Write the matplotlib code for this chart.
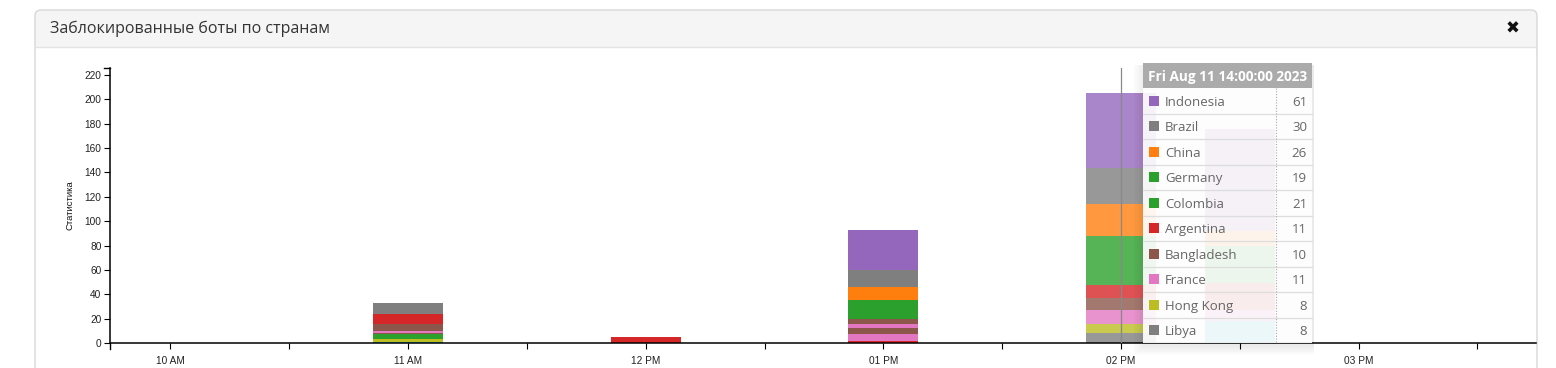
import matplotlib.pyplot as plt
from matplotlib.patches import FancyBboxPatch, Rectangle

W, H = 1556, 368

cat10 = {'blue': '#1f77b4', 'orange': '#ff7f0e', 'green': '#2ca02c', 'red': '#d62728',
         'purple': '#9467bd', 'brown': '#8c564b', 'pink': '#e377c2', 'gray': '#7f7f7f',
         'olive': '#bcbd22', 'cyan': '#17becf'}

# bar centres (hour of day)
bar_hours = [11, 12, 13, 14, 14.5]

# stacked segments, bottom -> top
vals_11 = [1, 2, 4, 1, 2, 6, 8, 9]
cols_11 = ['cyan', 'olive', 'green', 'brown', 'pink', 'brown', 'red', 'gray']
vals_12 = [5]
cols_12 = ['red']
vals_13 = [2, 5, 5, 4, 4, 15, 11, 14, 33]
cols_13 = ['red', 'pink', 'brown', 'pink', 'brown', 'green', 'orange', 'gray', 'purple']
vals_1430 = [18, 9, 22, 31, 12, 84]
cols_1430 = ['cyan', 'pink', 'red', 'green', 'orange', 'purple']

# hovered bar (14:00), as listed in the tooltip, top -> bottom
countries_14 = ['Indonesia', 'Brazil', 'China', 'Germany', 'Colombia',
                'Argentina', 'Bangladesh', 'France', 'Hong Kong', 'Libya']
vals_14 = [61, 30, 26, 19, 21, 11, 10, 11, 8, 8]
cols_14 = ['purple', 'gray', 'orange', 'green', 'green',
           'red', 'brown', 'pink', 'olive', 'gray']

hour_ticks = [10, 11, 12, 13, 14, 15]
hour_labels = ['10 AM', '11 AM', '12 PM', '01 PM', '02 PM', '03 PM']
half_ticks = [10.5, 11.5, 12.5, 13.5, 14.5, 15.5]
y_ticks = list(range(0, 221, 20))

title = 'Заблокированные боты по странам'
y_title = 'Статистика'
tip_title = 'Fri Aug 11 14:00:00 2023'

fig = plt.figure(figsize=(W / 100, H / 100), dpi=100)

# panel background, pixel coordinates
bg = fig.add_axes([0, 0, 1, 1], zorder=0)
bg.set_xlim(0, W)
bg.set_ylim(H, 0)
bg.axis('off')
bg.add_patch(FancyBboxPatch((35, 10), 1502, 50, boxstyle='round,pad=0,rounding_size=6',
                            fc='#f5f5f5', ec='none'))
bg.add_patch(Rectangle((35.5, 47), 1501, 20, fc='white', ec='none'))
bg.plot([35.5, 1536.5], [47, 47], color='#e3e3e3', lw=1)
bg.add_patch(FancyBboxPatch((35, 10), 1502, 380, boxstyle='round,pad=0,rounding_size=6',
                            fc='none', ec='#d8d8d8', lw=1))
bg.text(50, 29, title, fontsize=11.5, family='Open Sans', color='#333333', va='center')
bg.text(1513, 28.5, '\u2716', fontsize=12, family='DejaVu Sans', color='#111111',
        ha='center', va='center')
# d3 style outer ticks at the ends of the axes
bg.plot([104, 110.5], [68, 68], color='black', lw=1)
bg.plot([110.5, 110.5], [343, 349], color='black', lw=1)
bg.text(70, 205, y_title, rotation=90, fontsize=6.8, family='Liberation Sans',
        ha='center', va='center', color='#111111')

# chart
ax = fig.add_axes([110.5 / W, (H - 343) / H, 1425.5 / W, 275 / H], zorder=1)
ax.patch.set_alpha(0)
ax.set_xlim(9.7475, 15.747)
ax.set_ylim(0, 225.7)

stacks = [(vals_11, cols_11), (vals_12, cols_12), (vals_13, cols_13),
          (vals_14[::-1], cols_14[::-1]), (vals_1430, cols_1430)]
for h, (vals, cols) in zip(bar_hours, stacks):
    bottom = 0
    alpha = 0.8 if h == 14 else 1.0
    for v, c in zip(vals, cols):
        ax.bar(h, v, width=0.295, bottom=bottom, color=cat10[c], alpha=alpha, lw=0)
        bottom += v

ax.axvline(14, color='#888888', lw=0.9, zorder=5)

for s in ['top', 'right']:
    ax.spines[s].set_visible(False)
for s in ['left', 'bottom']:
    ax.spines[s].set_linewidth(1.1)
ax.set_yticks(y_ticks)
ax.set_xticks(hour_ticks)
ax.set_xticklabels(hour_labels)
ax.set_xticks(half_ticks, minor=True)
ax.tick_params(axis='both', which='both', length=4.5, width=0.8, direction='out',
               labelsize=7.3, colors='black', pad=2)
ax.tick_params(axis='x', pad=5)
for lbl in ax.get_xticklabels() + ax.get_yticklabels():
    lbl.set_family('Liberation Sans')
    lbl.set_color('#222222')

# tooltip overlay
ov = fig.add_axes([0, 0, 1, 1], zorder=3)
ov.set_xlim(0, W)
ov.set_ylim(H, 0)
ov.axis('off')
tx0, tx1, ty0, ty1 = 1143, 1312, 63, 343
for k in range(1, 8):
    ov.add_patch(Rectangle((tx0 - k * 1.6 + 2, ty0 + 2), tx1 - tx0 + k * 1.6,
                           ty1 - ty0 + k * 1.4, fc='black', alpha=0.012, ec='none'))
ov.add_patch(Rectangle((tx0, 88), tx1 - tx0, ty1 - 88, fc='white', alpha=0.92, ec='none'))
ov.add_patch(Rectangle((tx0, ty0), tx1 - tx0, 25, fc='#ababab', ec='none'))
ov.text(1227.5, 76.5, tip_title, fontsize=9.8, family='Open Sans', weight='bold',
        color='white', ha='center', va='center')
row_h = (ty1 - 88) / len(countries_14)
for i, (name, v, c) in enumerate(zip(countries_14, vals_14, cols_14)):
    yc = 88 + row_h * (i + 0.5)
    if i > 0:
        ov.plot([tx0, tx1], [88 + row_h * i] * 2, color='#dddddd', lw=0.9)
    ov.add_patch(Rectangle((1149, yc - 5), 10, 10, fc=cat10[c], ec='none'))
    ov.text(1165, yc + 1.5, name, fontsize=9.5, family='Open Sans', color='#666666',
            va='center')
    ov.text(1307, yc + 1.5, str(v), fontsize=9.5, family='Open Sans', color='#666666',
            ha='right', va='center')
ov.plot([1276, 1276], [88, ty1], color='#aaaaaa', lw=0.8, ls=(0, (1, 1.5)))

fig.savefig('out.png', dpi=100)
